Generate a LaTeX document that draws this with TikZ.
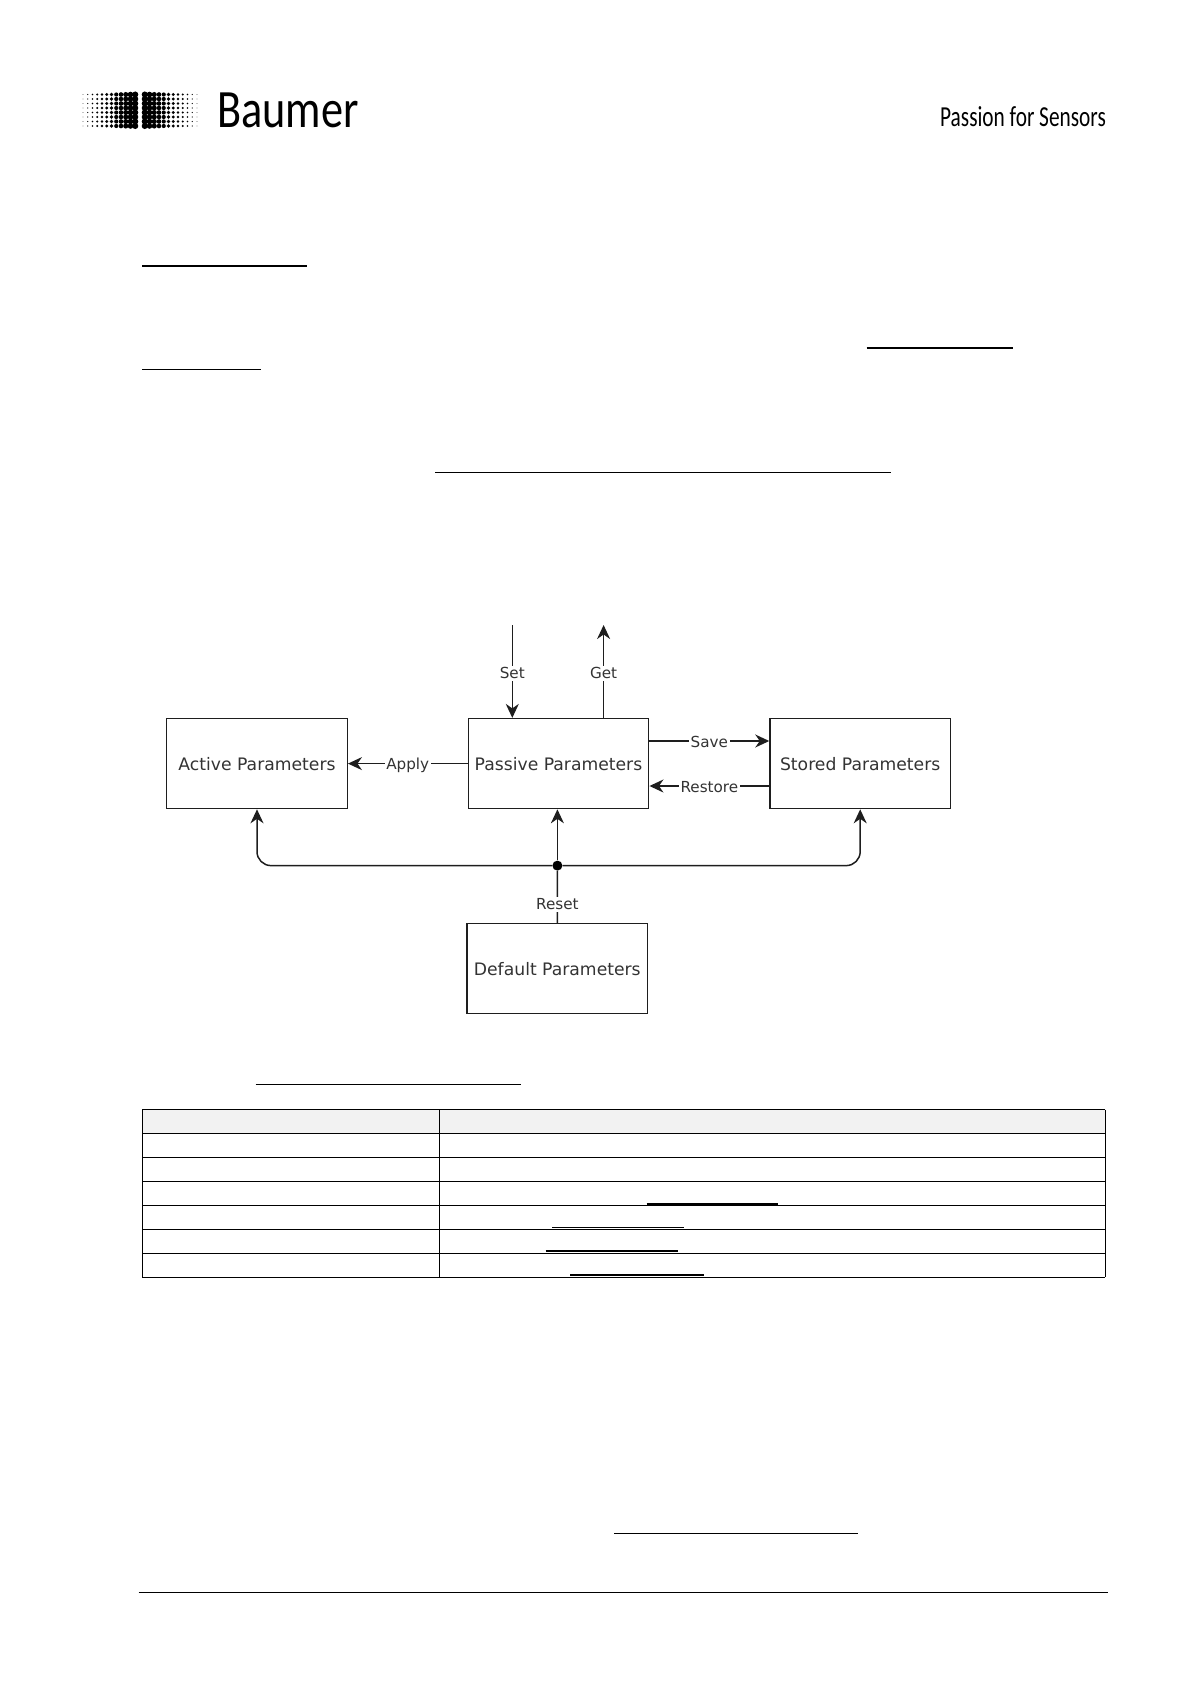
\documentclass[tikz,border=0pt]{standalone}
\usepackage{fontspec}
\usetikzlibrary{positioning, arrows.meta, calc}
\newfontfamily\boxfont{DejaVu Sans}
\newfontfamily\logofont{Carlito}
\definecolor{headgray}{RGB}{242, 242, 242}
\definecolor{linegray}{RGB}{30, 30, 30}
\tikzset{
    parambox/.style={draw=linegray, line width=1.4pt, minimum width=180.5pt, minimum height=90pt, inner sep=0pt, font=\boxfont\fontsize{17.2}{20}\selectfont, text=black!80},
    conn/.style={draw=linegray, line width=1.5pt, -{Stealth[length=14pt, width=13pt, inset=4.5pt]}},
    plainconn/.style={draw=linegray, line width=1.5pt},
    connlabel/.style={fill=white, inner sep=1.5pt, font=\boxfont\fontsize{15.2}{18}\selectfont, text=black!80},
    rulebar/.style={draw=black, line width=1.5pt},
    tablerule/.style={draw=black, line width=.9pt}
}
\begin{document}
\begin{tikzpicture}[x=1pt, y=-1pt]
    \useasboundingbox (0,0) rectangle (1191,1684);
    % Logo dots
    \foreach \col in {0,...,11}
        \foreach \row in {0,...,7} {
            \fill ({83+4.75*\col},{94.5+4.5*\row}) circle ({0.4+0.24*\col});
            \fill ({197-4.75*\col},{94.5+4.5*\row}) circle ({0.4+0.24*\col});
        }
    \node[anchor=base west, inner sep=0pt, font=\logofont\fontsize{54}{54}\selectfont, xscale=.82, transform shape] (brand) at (217,127.5) {Baumer};
    \node[anchor=base east, inner sep=0pt, font=\logofont\fontsize{29}{29}\selectfont, xscale=.735, transform shape] (claim) at (1106,126) {Passion for Sensors};

    % Link rules of the text
    \foreach \xa/\xb/\yy in {142/307/266, 866.7/1012.8/348, 142/261/369.5, 435/891.4/472.5, 255.6/521/1084.7, 646.5/777.5/1204, 552/684/1227.5, 545.6/677.7/1251, 570/703.5/1275, 614/858/1533.7}
        \draw[rulebar] (\xa,\yy) -- (\xb,\yy);
    \draw[tablerule] (138.5,1592.7) -- (1108.4,1592.7);

    % Table
    \fill[headgray] (142,1109.5) rectangle (1105,1133);
    \foreach \yy in {1109.5,1133,1157,1181,1205,1229,1253,1277}
        \draw[tablerule] (142,\yy) -- (1105,\yy);
    \foreach \xx in {142,439,1105}
        \draw[tablerule] (\xx,1109.5) -- (\xx,1277);

    % Parameter boxes
    \node[parambox] (active) at (257,763.6) {Active Parameters};
    \node[parambox] (passive) at (558.5,763.6) {Passive Parameters};
    \node[parambox] (stored) at (860.2,763.6) {Stored Parameters};
    \node[parambox] (default) at (557.3,968.7) {Default Parameters};

    % Free ends and the branch point
    \coordinate (setTop) at (512.3,625);
    \coordinate (getTop) at (603.6,625);
    \node[circle, fill=black, inner sep=0pt, minimum size=10pt] (busDot) at (557.4,865.6) {};

    % Connectors
    \draw[conn] (setTop) -- node[connlabel, pos=.52] {Set} (setTop |- passive.north);
    \draw[conn] (getTop |- passive.north) -- node[connlabel, pos=.48] {Get} (getTop);
    \draw[conn] (passive.west) -- node[connlabel, yshift=-2pt] {Apply} (active.east);
    \draw[conn] ([yshift=22.6pt]passive.east) -- node[connlabel, yshift=-1pt] {Save} ([yshift=22.6pt]stored.west);
    \draw[conn] ([yshift=-22.4pt]stored.west) -- node[connlabel, yshift=-1pt] {Restore} ([yshift=-22.4pt]passive.east);
    \draw[plainconn] (default.north) -- node[connlabel, pos=.355] {Reset} (busDot);
    \draw[conn] (busDot) -- (busDot |- passive.south);
    \draw[conn, rounded corners=14pt] (busDot) -| (active.south);
    \draw[conn, rounded corners=14pt] (busDot) -| (stored.south);
\end{tikzpicture}
\end{document}
